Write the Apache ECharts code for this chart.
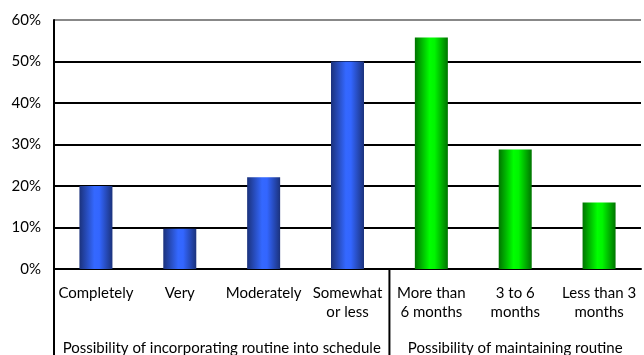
<!DOCTYPE html>
<html><head><meta charset="utf-8">
<script src="https://cdn.jsdelivr.net/npm/echarts@6/dist/echarts.min.js"></script>
<style>html,body{margin:0;padding:0;background:#fff}#c{width:644px;height:355px}</style>
</head><body><div id="c"></div>
<script>
const categories = ['Completely','Very','Moderately','Somewhat\nor less','More than\n6 months','3 to 6\nmonths','Less than 3\nmonths'];
const groupNames = ['Possibility of incorporating routine into schedule','Possibility of maintaining routine'];
const groupSizes = [4, 3];
const values = [0.20, 0.097, 0.221, 0.50, 0.558, 0.288, 0.16];
const yTicks = [0, 0.1, 0.2, 0.3, 0.4, 0.5, 0.6];

const FONT = 'Lato';
const FS = 15;
const blue = new echarts.graphic.LinearGradient(0,0,1,0,[
  {offset:0,color:'#1b327c'},{offset:0.45,color:'#3468ff'},{offset:0.6,color:'#3366ff'},{offset:1,color:'#1b327c'}]);
const green = new echarts.graphic.LinearGradient(0,0,1,0,[
  {offset:0,color:'#007400'},{offset:0.45,color:'#00ff00'},{offset:0.6,color:'#00f500'},{offset:1,color:'#007400'}]);

const chart = echarts.init(document.getElementById('c'));
chart.setOption({
  animation:false,
  grid:{left:54,right:3,top:20,bottom:86,containLabel:false},
  xAxis:{type:'category',data:categories,
    axisLine:{lineStyle:{color:'#000',width:2}},axisTick:{show:false},
    axisLabel:{interval:0,color:'#000',fontFamily:FONT,fontSize:FS,lineHeight:19,margin:15}},
  yAxis:{type:'value',min:yTicks[0],max:yTicks[yTicks.length-1],interval:0.1,
    axisLine:{show:true,lineStyle:{color:'#000',width:2}},axisTick:{show:false},
    axisLabel:{color:'#000',fontFamily:FONT,fontSize:FS,margin:13,formatter:v=>Math.round(v*100)+'%'},
    splitLine:{lineStyle:{color:['#000','#000','#000','#000','#000','#000','#888'],width:2}}},
  series:[{type:'bar',barWidth:33,
    data:values.map((v,i)=>({value:v,itemStyle:{color:i<groupSizes[0]?blue:green}}))}]
});

const yBase = chart.convertToPixel({yAxisIndex:0},0);
const half = (chart.convertToPixel({xAxisIndex:0},1)-chart.convertToPixel({xAxisIndex:0},0))/2;
const leftEdge = chart.convertToPixel({xAxisIndex:0},0)-half;
const graphics = [];
let start = 0;
graphics.push({type:'line',shape:{x1:leftEdge,y1:yBase,x2:leftEdge,y2:355},style:{stroke:'#000',lineWidth:2}});
groupSizes.forEach((n,gi)=>{
  const x0 = chart.convertToPixel({xAxisIndex:0},start)-half;
  const x1 = chart.convertToPixel({xAxisIndex:0},start+n-1)+half;
  graphics.push({type:'text',x:(x0+x1)/2,y:348,style:{text:groupNames[gi],fill:'#000',font:FS+'px '+FONT,textAlign:'center',textVerticalAlign:'middle'}});
  if(gi<groupSizes.length-1){
    graphics.push({type:'line',shape:{x1:x1,y1:yBase,x2:x1,y2:355},style:{stroke:'#000',lineWidth:2}});
  }
  start += n;
});
chart.setOption({graphic:graphics});
</script></body></html>
